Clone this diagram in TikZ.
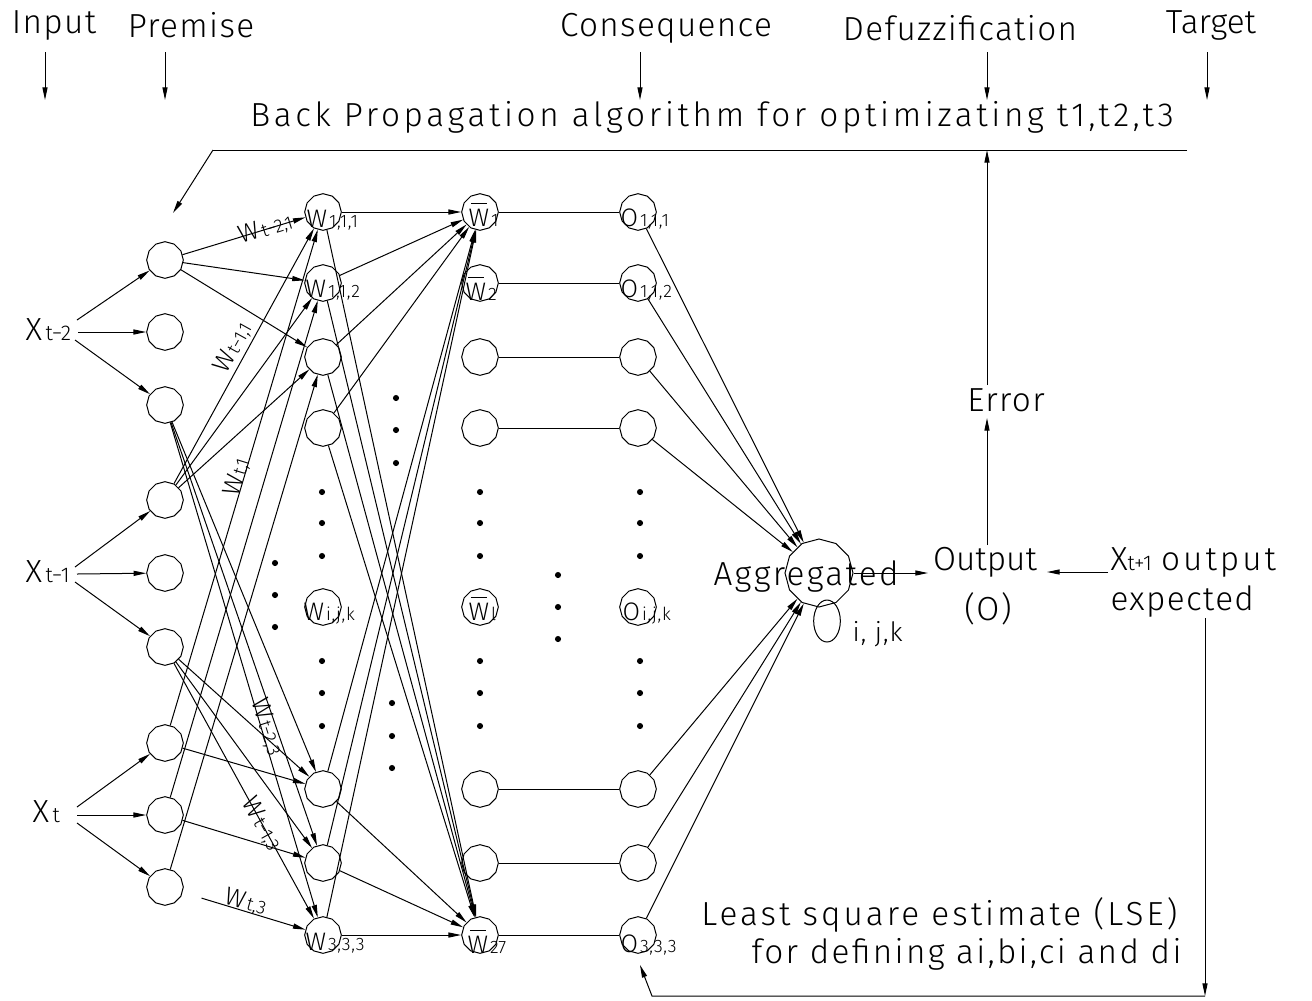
\documentclass[tikz,border=0pt]{standalone}
\usepackage{fontspec}
\setmainfont{Fira Sans}[UprightFont={* Light}]
\newfontfamily\spA{Fira Sans}[UprightFont={* Light},LetterSpace=11]
\newfontfamily\spB{Fira Sans}[UprightFont={* Light},LetterSpace=9]
\newfontfamily\spC{Fira Sans}[UprightFont={* Light},LetterSpace=4]
\newfontfamily\spD{Fira Sans}[UprightFont={* Light},LetterSpace=7]
\usetikzlibrary{arrows.meta,shapes.geometric}
\newcommand\fBig{\fontsize{25}{30}\selectfont}
\newcommand\fXl{\fontsize{24}{28}\selectfont}
\newcommand\fXs{\fontsize{16}{18}\selectfont}
\newcommand\fW{\fontsize{19}{21}\selectfont}
\newcommand\fWs{\fontsize{13.5}{15}\selectfont}
\newcommand\fEs{\fontsize{14}{16}\selectfont}
\newcommand\fIjk{\fontsize{20}{22}\selectfont}
% W with a subscript set on the same baseline
\newcommand\wlab[2]{{\fW #1}\kern1.5pt{\fWs\spC #2}}
% normalised firing strength: W with a bar above it
\newcommand\wbar{\ooalign{W\cr\hidewidth\rule[16.5pt]{12pt}{0.6pt}\hidewidth\cr}}
\newcommand\nlab[1]{{\fW\wbar}\kern1.5pt{\fWs #1}}
% weight labels on the premise-to-rule links
\newcommand\elab[1]{{\fW W}\kern1.5pt{\fEs #1}}
\begin{document}
\begin{tikzpicture}[x=0.75pt,y=-0.75pt,line width=0.75pt,
  >={Triangle[length=9.5pt,width=3.8pt]},
  nd/.style={draw,regular polygon,regular polygon sides=12,shape border rotate=15,
             minimum size=27.5pt,inner sep=0pt},
  txt/.style={inner sep=0pt,font=\fBig\spC},
  lab/.style={inner sep=0pt,anchor=base west},
  dot/.style={circle,fill,inner sep=0pt,minimum size=4.6pt}]
\useasboundingbox (0,0) rectangle (1312,1000);

% ---- column headings
\node[txt] (hIn) at (54,25) {Input};
\node[txt] (hPr) at (191,25) {Premise};
\node[txt] (hCo) at (666,28) {Consequence};
\node[txt] (hDe) at (960,28) {Defuzzification};
\node[txt,font=\fBig] (hTa) at (1211,25) {Target};
\foreach \n/\x in {In/45,Pr/165,Co/640,De/987,Ta/1207}{
  \coordinate (\n-a) at (\x,52);
  \coordinate (\n-b) at (\x,100);
  \draw[->] (\n-a) -- (\n-b);
}

% ---- back propagation loop
\node[txt,font=\fBig\spA] (bp) at (712,117) {Back Propagation algorithm for optimizating t1,t2,t3};
\coordinate (bpR) at (1187,150);
\coordinate (bpL) at (213,150);
\coordinate (bpT) at (173,213);
\draw (bpR) -- (bpL);
\draw[->] (bpL) -- (bpT);

% ---- inputs
\node[lab] (xa) at (25,340) {{\fXl X}{\fXs\,t−2}};
\node[lab] (xb) at (25,582) {{\fXl X}{\fXs\,t−1}};
\node[lab] (xc) at (32,822) {{\fXl X}{\fXs\,t}};
\coordinate (xa1) at (77,320); \coordinate (xa2) at (78,332); \coordinate (xa3) at (75,340);
\coordinate (xb1) at (75,567); \coordinate (xb2) at (77,574); \coordinate (xb3) at (75,582);
\coordinate (xc1) at (77,807); \coordinate (xc2) at (77,815); \coordinate (xc3) at (77,823);

% ---- premise layer
\foreach \y [count=\i] in {260,332,405,500,573,647,743,815,887}
  \node[nd] (p\i) at (165,\y) {};

% ---- rule, normalisation and consequence layers
\foreach \n/\y in {1/212,2/283,3/357,4/428,l/607,7/789,8/863,9/935}{
  \node[nd] (r\n) at (323,\y) {};
  \node[nd] (n\n) at (480,\y) {};
  \node[nd] (o\n) at (638,\y) {};
}

% ---- ellipsis dots
\foreach \y [count=\i] in {492,523,556,661,693,726}{
  \node[dot] (dr\i) at (322,\y) {};
  \node[dot] (dn\i) at (480,\y) {};
  \node[dot] (do\i) at (640,\y) {};
}
\foreach \y [count=\i] in {563,595,627} \node[dot] (dp\i) at (275,\y) {};
\foreach \y [count=\i] in {398,430,463} \node[dot] (du\i) at (396,\y) {};
\foreach \y [count=\i] in {703,736,768} \node[dot] (dl\i) at (392,\y) {};
\foreach \y [count=\i] in {575,607,639} \node[dot] (dm\i) at (558,\y) {};

% ---- node labels
\node[lab] (lr1) at (306,227) {\wlab{W}{1,1,1}};
\node[lab] (lr2) at (305,297) {\wlab{W}{1,1,2}};
\node[lab] (lrl) at (303,620) {\wlab{W}{i,j,k}};
\node[lab] (lr9) at (305,950) {\wlab{W}{3,3,3}};
\node[lab] (ln1) at (468,226) {\nlab{1}};
\node[lab] (ln2) at (465,300) {\nlab{2}};
\node[lab] (lnl) at (468,620) {\nlab{l}};
\node[lab] (ln9) at (467,953) {\nlab{27}};
\node[lab] (lo1) at (620,226) {\wlab{O}{1,1,1}};
\node[lab] (lo2) at (620,297) {\wlab{O}{1,1,2}};
\node[lab] (lol) at (622,620) {\wlab{O}{i,j,k}};
\node[lab] (lo9) at (620,952) {\wlab{O}{3,3,3}};

% ---- input to premise
\foreach \a/\b in {xa1/p1,xa2/p2,xa3/p3,xb1/p4,xb2/p5,xb3/p6,xc1/p7,xc2/p8,xc3/p9}
  \draw[->] (\a) -- (\b);

% ---- premise to rule
\foreach \a/\b in {p1/r1,p1/r2,p1/r3,p4/r1,p4/r2,p4/r3,p7/r1,p8/r2,p9/r3,
                   p3/r7,p3/r8,p3/r9,p6/r7,p6/r8,p6/r9,p7/r7,p8/r8}
  \draw[->] (\a) -- (\b);
\draw[->,shorten <=15pt] (p9) -- (r9);

% ---- weight labels
\node[inner sep=0pt,rotate=17]  (w1) at (266,229) {\elab{t−2,1}};
\node[inner sep=0pt,rotate=61]  (w2) at (233,348) {\elab{t−1,1}};
\node[inner sep=0pt,rotate=73]  (w3) at (237,477) {\elab{t,1}};
\node[inner sep=0pt,rotate=-72] (w4) at (267,727) {\elab{t−2,3}};
\node[inner sep=0pt,rotate=-61] (w5) at (262,824) {\elab{t−1,3}};
\node[inner sep=0pt,rotate=-16] (w6) at (246,902) {\elab{t,3}};

% ---- rule to normalisation
\foreach \a in {r1,r2,r3,r4,r7,r8,r9}{
  \draw[->] (\a) -- (n1);
  \draw[->] (\a) -- (n9);
}

% ---- normalisation to consequence
\foreach \a in {1,2,3,4,7,8,9}
  \draw (n\a) -- (o\a);

% ---- aggregation
\node[nd,minimum size=51pt] (agg) at (819,573) {};
\node[lab,font=\fBig\spD] (aggT) at (713,585) {Aggregated};
\node[draw,ellipse,minimum width=20pt,minimum height=31.5pt,inner sep=0pt] (oe) at (827,621) {};
\node[lab,font=\fIjk\spC] (oeT) at (852,641) {i, j,k};
\foreach \a in {1,2,3,4,7,8,9}
  \draw[->] (o\a) -- (agg);

% ---- output and target
\node[txt,anchor=base,font=\fBig] (out) at (985,570) {Output};
\node[txt,anchor=base] (outO) at (988,620) {(O)};
\coordinate (aggTip) at (928,573);
\draw[->] (agg) -- (aggTip);
\node[lab,font=\fBig] (tgt) at (1110,570) {X{\fXs t+1} {\spB output}};
\node[lab,font=\fBig\spC] (expd) at (1110,610) {expected};
\coordinate (tA) at (1108,572);
\coordinate (tB) at (1047,572);
\draw[->] (tA) -- (tB);

% ---- error feedback
\node[txt] (err) at (1006,400) {Error};
\coordinate (eA) at (987,545); \coordinate (eB) at (987,418);
\coordinate (eC) at (987,385); \coordinate (eD) at (987,150);
\draw[->] (eA) -- (eB);
\draw[->] (eC) -- (eD);

% ---- least squares loop
\node[lab,anchor=base east,font=\fBig\spB] (lse1) at (1178,925) {Least square estimate (LSE)};
\node[lab,anchor=base east,font=\fBig\spD] (lse2) at (1182,963) {for defining ai,bi,ci and di};
\coordinate (vA) at (1205,618);
\coordinate (vB) at (1205,996);
\coordinate (vC) at (652,996);
\coordinate (vD) at (640,965);
\draw[->] (vA) -- (vB);
\draw[->] (vB) -- (vC) -- (vD);
\end{tikzpicture}
\end{document}
